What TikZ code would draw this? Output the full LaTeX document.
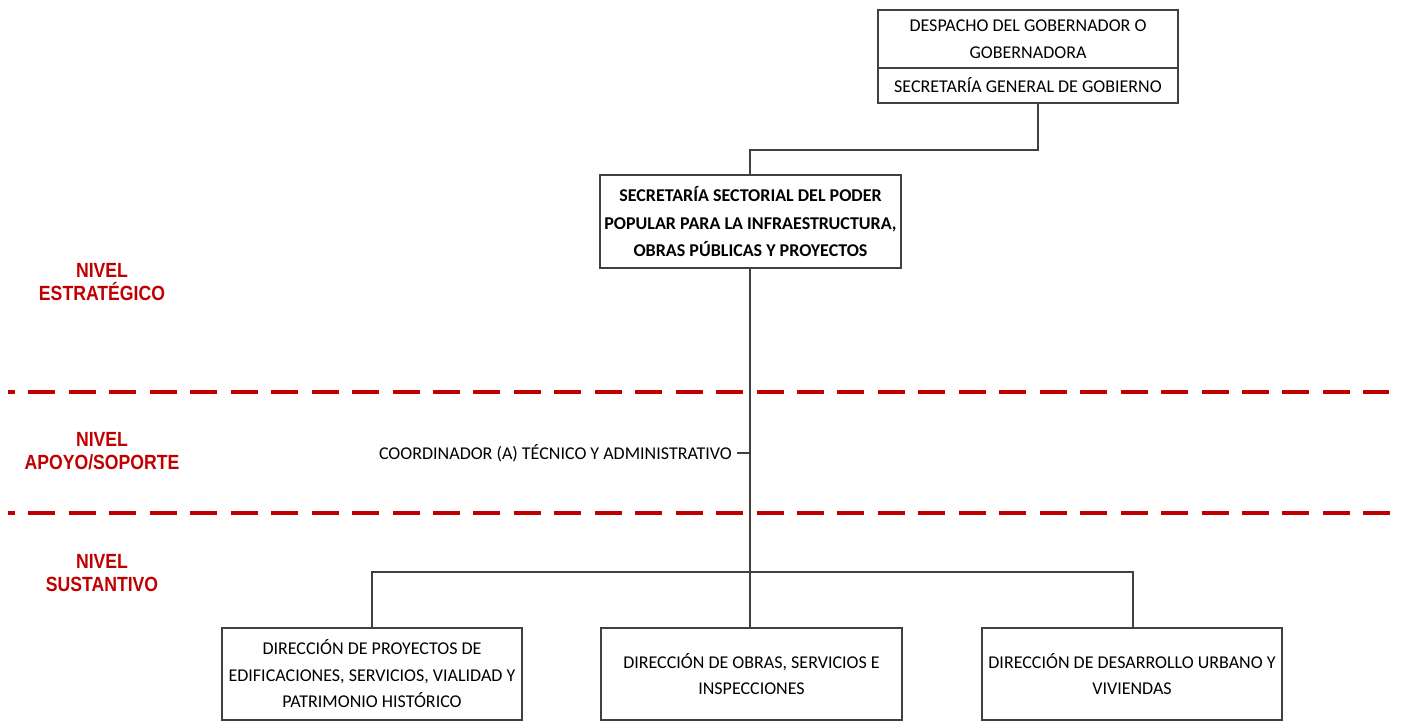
\documentclass[tikz,border=0pt]{standalone}
\usepackage{fontspec}
\setmainfont{Carlito}
\newfontfamily\labfont[FakeStretch=0.86]{Liberation Sans}
\definecolor{lvlred}{HTML}{C00000}
\definecolor{boxline}{HTML}{404040}
\tikzset{
  orgbox/.style={draw=boxline, line width=1.4pt, fill=white, align=center,
    inner sep=2pt, font=\fontsize{18}{26.5}\selectfont},
  conn/.style={draw=boxline, line width=1.4pt},
  lvl/.style={text=lvlred, align=center, font=\labfont\bfseries\fontsize{20.5}{23.5}\selectfont},
  lvlline/.style={draw=lvlred, line width=3.5pt, dash pattern=on 27pt off 13.45pt, dash phase=20pt},
  plain/.style={font=\fontsize{18}{26.5}\selectfont, inner sep=0pt}
}
\begin{document}
\begin{tikzpicture}[x=1pt,y=-1pt]
\useasboundingbox (0,0) rectangle (1402,721);
% top box
\node[orgbox, minimum width=300pt, minimum height=58pt] (despacho) at (1028,39)
  {DESPACHO DEL GOBERNADOR O\\GOBERNADORA};
\node[orgbox, minimum width=300pt, minimum height=35pt, font=\fontsize{18}{20}\selectfont] (secgen) at (1028,85.5)
  {SECRETARÍA GENERAL DE GOBIERNO};
% sector box
\node[orgbox, minimum width=301pt, minimum height=93pt, font=\bfseries\fontsize{18}{27.5}\selectfont] (sector) at (750.5,221.5)
  {SECRETARÍA SECTORIAL DEL PODER\\POPULAR PARA LA INFRAESTRUCTURA,\\OBRAS PÚBLICAS Y PROYECTOS};
% bottom boxes
\node[orgbox, minimum width=300pt, minimum height=92pt] (dirproy) at (372,674)
  {DIRECCIÓN DE PROYECTOS DE\\EDIFICACIONES, SERVICIOS, VIALIDAD Y\\PATRIMONIO HISTÓRICO};
\node[orgbox, minimum width=301pt, minimum height=92pt] (dirobras) at (751.5,674)
  {DIRECCIÓN DE OBRAS, SERVICIOS E\\INSPECCIONES};
\node[orgbox, minimum width=300pt, minimum height=92pt] (dirurb) at (1132,674)
  {DIRECCIÓN DE DESARROLLO URBANO Y\\VIVIENDAS};
% coordinator
\node[plain, anchor=east] (coord) at (732,453) {COORDINADOR (A) TÉCNICO Y ADMINISTRATIVO};
% junctions
\coordinate (jtop) at (1038,150);
\coordinate (jbus) at (750,572);
\coordinate (jcoord) at (750,453);
% connectors
\draw[conn] ([xshift=10pt]secgen.south) -- (jtop) -| ([xshift=-0.5pt]sector.north);
\draw[conn] ([xshift=-0.5pt]sector.south) -- (jbus);
\draw[conn] ([xshift=5pt]coord.east) -- (jcoord);
\draw[conn] (jbus) -| (dirproy.north);
\draw[conn] (jbus) -| ([xshift=1pt]dirurb.north);
\draw[conn] (jbus) -- ([xshift=-1.5pt]dirobras.north);
% level separators
\draw[lvlline] (8,392) -- (1389,392);
\draw[lvlline] (8,513) -- (1391,513);
% level labels
\node[lvl] (lvlest) at (102,282) {NIVEL\\ESTRATÉGICO};
\node[lvl] (lvlapo) at (102,451) {NIVEL\\APOYO/SOPORTE};
\node[lvl] (lvlsus) at (102,573) {NIVEL\\SUSTANTIVO};
\end{tikzpicture}
\end{document}
